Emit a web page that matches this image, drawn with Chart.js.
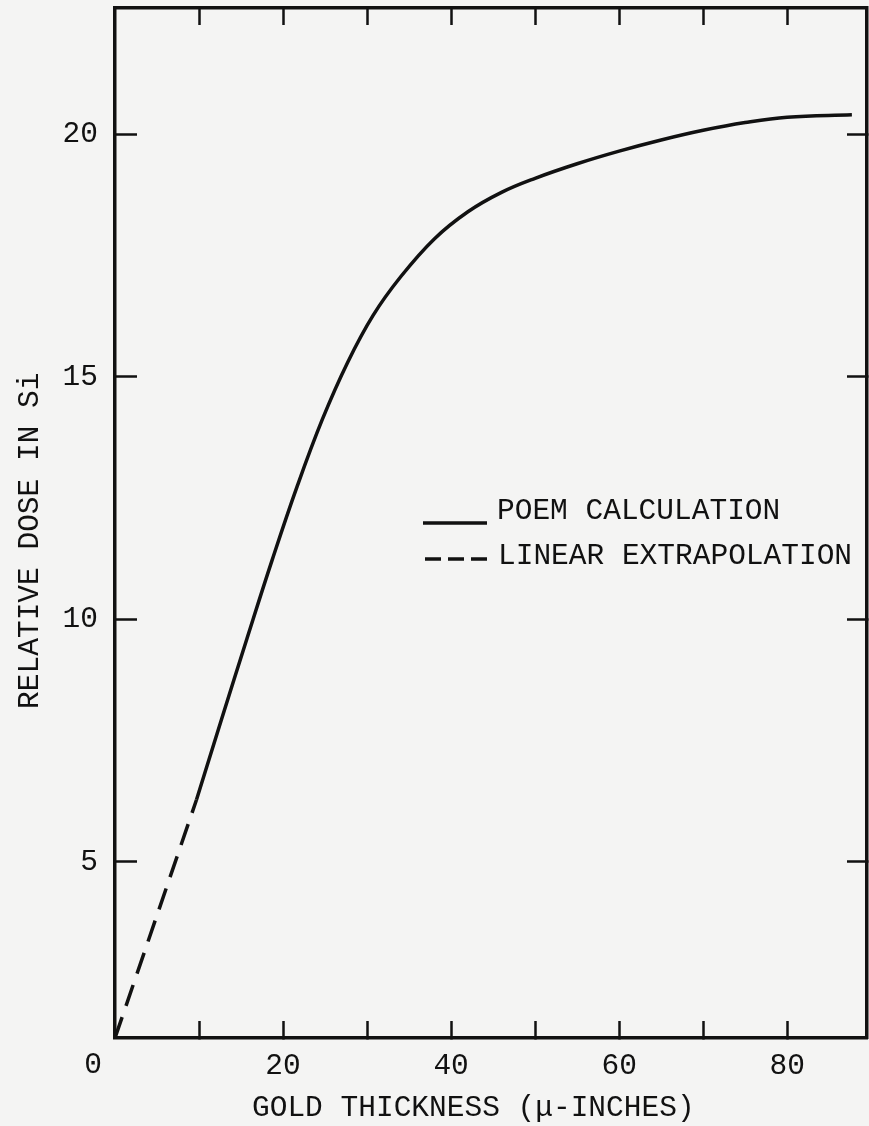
<!DOCTYPE html>
<html>
<head>
<meta charset="utf-8">
<script src="https://cdn.jsdelivr.net/npm/chart.js@4.4.1/dist/chart.umd.min.js"></script>
<style>
  html, body { margin: 0; padding: 0; background: #f4f4f3; }
  #wrap { width: 869px; height: 1126px; }
</style>
</head>
<body>
<div id="wrap"><canvas id="chart" width="869" height="1126"></canvas></div>
<script>
// Relative dose in Si versus gold thickness (micro-inches)
const thicknessCalc = [9.7, 12.7, 15.7, 18.7, 21.7, 24.7, 27.7, 30.7, 34.0, 38.0, 42.0, 46.0, 50.0, 55.0, 60.0, 65.0, 70.0, 75.0, 80.0, 87.7];
const doseCalc      = [6.28, 7.95, 9.6, 11.22, 12.75, 14.13, 15.3, 16.26, 17.06, 17.84, 18.4, 18.8, 19.09, 19.39, 19.65, 19.88, 20.08, 20.24, 20.35, 20.4];
const thicknessExtrap = [0, 9.7];
const doseExtrap      = [1.37, 6.28];

const xTickValues  = [10, 20, 30, 40, 50, 60, 70, 80];
const xLabelValues = [20, 40, 60, 80];
const yTickValues  = [5, 10, 15, 20];

const seriesNames = ['POEM CALCULATION', 'LINEAR EXTRAPOLATION'];
const xTitle = 'GOLD THICKNESS (\u03bc-INCHES)';
const yTitle = 'RELATIVE DOSE IN Si';
const originLabel = '0';

const INK = '#111111';
const FONT = { family: '"Liberation Mono", "DejaVu Sans Mono", monospace', size: 29.5 };
// two trailing spaces nudge each centred axis title toward the axis origin
const TITLE_PAD = '  ';

const toPoints = (xs, ys) => xs.map((x, i) => ({ x, y: ys[i] }));

// Fixed box sizes for the four frame axes; no extra label padding around the plot
const fixBox = (w, h) => s => {
  if (w !== null) s.width = w;
  if (h !== null) s.height = h;
  s.paddingTop = 0; s.paddingBottom = 0; s.paddingLeft = 0; s.paddingRight = 0;
};

// Legend drawn inside the plot area, next to the curve
const insideLegend = {
  id: 'insideLegend',
  afterDraw(chart, args, opts) {
    const ctx = chart.ctx;
    ctx.save();
    ctx.font = `${FONT.size}px ${FONT.family}`;
    ctx.fillStyle = INK;
    ctx.textBaseline = 'middle';
    ctx.textAlign = 'left';
    opts.items.forEach((it, i) => {
      const ds = chart.data.datasets[i];
      ctx.strokeStyle = ds.borderColor;
      ctx.lineWidth = ds.borderWidth;
      ctx.setLineDash(it.dash);
      ctx.beginPath();
      ctx.moveTo(it.x0, it.lineY);
      ctx.lineTo(it.x1, it.lineY);
      ctx.stroke();
      ctx.setLineDash([]);
      ctx.fillText(ds.label, it.textX, it.textY);
    });
    ctx.restore();
  }
};

// Shared origin label, set just left of the corner on the x label row
const originMark = {
  id: 'originMark',
  afterDraw(chart, args, opts) {
    const xs = chart.scales.x;
    const ctx = chart.ctx;
    ctx.save();
    ctx.font = `${FONT.size}px ${FONT.family}`;
    ctx.fillStyle = INK;
    ctx.textAlign = 'center';
    ctx.textBaseline = 'middle';
    ctx.fillText(originLabel, xs.getPixelForValue(0) + opts.dx, xs.top + opts.dy);
    ctx.restore();
  }
};

new Chart(document.getElementById('chart'), {
  type: 'line',
  data: {
    datasets: [
      {
        label: seriesNames[0],
        data: toPoints(thicknessCalc, doseCalc),
        borderColor: INK,
        borderWidth: 3.5,
        pointRadius: 0,
        fill: false,
        tension: 0.4
      },
      {
        label: seriesNames[1],
        data: toPoints(thicknessExtrap, doseExtrap),
        borderColor: INK,
        borderWidth: 3.5,
        borderDash: [22, 12],
        pointRadius: 0,
        fill: false
      }
    ]
  },
  options: {
    responsive: false,
    animation: false,
    layout: { padding: 0 },
    plugins: {
      legend: { display: false },
      tooltip: { enabled: false },
      insideLegend: {
        items: [
          { x0: 423, x1: 487, lineY: 523, dash: [], textX: 497, textY: 511 },
          { x0: 425, x1: 489, lineY: 559, dash: [16, 7], textX: 498, textY: 556 }
        ]
      },
      originMark: { dx: -22, dy: 27 }
    },
    scales: {
      x: {
        type: 'linear',
        position: 'bottom',
        min: 0,
        max: 89.5,
        afterBuildTicks: s => { s.ticks = xTickValues.map(v => ({ value: v })); },
        afterFit: fixBox(null, 88),
        ticks: {
          callback: v => xLabelValues.includes(v) ? String(v) : '',
          font: FONT, color: INK, padding: 27, maxRotation: 0, autoSkip: false
        },
        grid: { drawOnChartArea: false, tickLength: -17, tickWidth: 2.5, tickColor: INK },
        border: { display: true, width: 3.5, color: INK },
        title: { display: true, text: xTitle + TITLE_PAD, font: FONT, color: INK, padding: { top: 3, bottom: 0 } }
      },
      xTop: {
        type: 'linear',
        position: 'top',
        min: 0,
        max: 89.5,
        afterBuildTicks: s => { s.ticks = xTickValues.map(v => ({ value: v })); },
        afterFit: fixBox(null, 8),
        ticks: { display: false },
        grid: { drawOnChartArea: false, tickLength: -17, tickWidth: 2.5, tickColor: INK },
        border: { display: true, width: 3.5, color: INK }
      },
      y: {
        type: 'linear',
        position: 'left',
        min: 1.37,
        max: 22.6,
        afterBuildTicks: s => { s.ticks = yTickValues.map(v => ({ value: v })); },
        afterFit: fixBox(115, null),
        ticks: { callback: v => String(v), font: FONT, color: INK, padding: 39 },
        grid: { drawOnChartArea: false, tickLength: -22, tickWidth: 2.5, tickColor: INK },
        border: { display: true, width: 3.5, color: INK },
        title: { display: true, text: yTitle + TITLE_PAD, font: FONT, color: INK, padding: { top: 12, bottom: 0 } }
      },
      yRight: {
        type: 'linear',
        position: 'right',
        min: 1.37,
        max: 22.6,
        afterBuildTicks: s => { s.ticks = yTickValues.map(v => ({ value: v })); },
        afterFit: fixBox(2, null),
        ticks: { display: false },
        grid: { drawOnChartArea: false, tickLength: -20, tickWidth: 2.5, tickColor: INK },
        border: { display: true, width: 3.5, color: INK }
      }
    }
  },
  plugins: [insideLegend, originMark]
});
</script>
</body>
</html>
